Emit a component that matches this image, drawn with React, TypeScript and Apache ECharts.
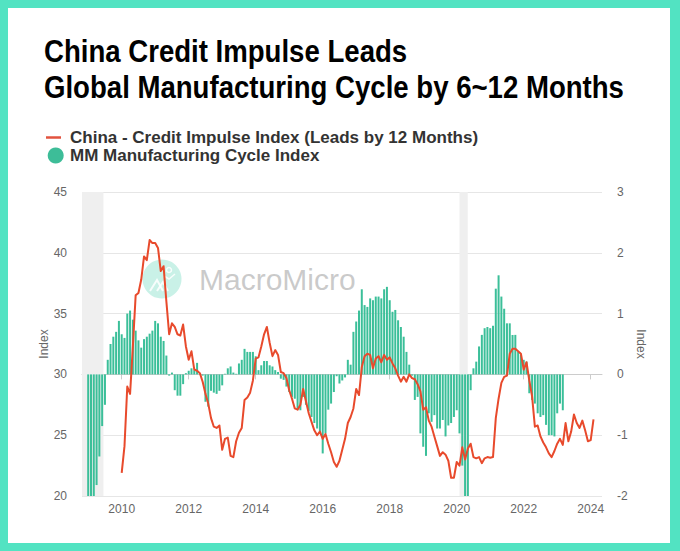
import React, { useEffect, useRef } from 'react';
import * as echarts from 'echarts';

const TITLE_LINES = ['China Credit Impulse Leads', 'Global Manufacturing Cycle by 6~12 Months'];
const LINE_NAME = 'China - Credit Impulse Index (Leads by 12 Months)';
const BAR_NAME = 'MM Manufacturing Cycle Index';
const AXIS_NAME = 'Index';

// MM Manufacturing Cycle Index, monthly from Jan 2009 (right axis)
const barStart = [2009, 1];
const cycleIndex = [
  -2.3, -2.2, -2.05, -1.82, -1.35, -0.85, -0.5, 0.24, 0.5, 0.62, 0.7, 0.88,
  0.66, 0.6, 1.0, 1.05, 0.9, 0.72, 0.56, 0.44, 0.58, 0.62, 0.67, 0.72,
  0.88, 0.84, 0.62, 0.55, 0.31, -0.02, 0.03, -0.26, -0.35, -0.35, -0.16, 0.02,
  0.06, 0.1, 0.07, 0.19, 0.01, -0.02, -0.45, -0.53, -0.27, -0.3, -0.32, -0.27,
  -0.18, 0.01, 0.1, 0.13, 0.03, 0.01, 0.18, 0.24, 0.42, 0.37, 0.37, 0.37,
  0.3, 0.07, 0.15, 0.22, 0.22, 0.15, 0.13, 0.07, 0.04, -0.07, -0.09, -0.2,
  -0.29, -0.37, -0.4, -0.56, -0.59, -0.37, -0.5, -0.6, -0.7, -0.8, -0.89, -0.97,
  -1.3, -0.97, -0.58, -0.48, -0.29, -0.03, -0.15, -0.1, -0.05, 0.24, 0.16, 0.7,
  0.87, 1.05, 1.4, 1.14, 1.11, 1.25, 1.22, 1.28, 1.28, 1.25, 1.4, 1.44,
  1.22, 1.03, 1.06, 0.89, 0.78, 0.62, 0.37, 0.16, -0.02, -0.42, -0.37, -0.97,
  -1.19, -1.34, -0.64, -0.78, -0.67, -0.89, -0.89, -0.75, -1.02, -0.84, -0.8, -0.7,
  -0.59, -0.97, -1.5, -2.1, -2.1, -0.26, 0.1, 0.21, 0.46, 0.65, 0.76, 0.78,
  0.76, 0.8, 1.41, 1.63, 1.28, 1.08, 0.84, 0.84, 0.65, 0.65, 0.37, 0.32,
  0.24, 0.21, -0.31, -0.42, -0.48, -0.64, -0.7, -0.67, -0.83, -1.0, -1.0, -1.02,
  -0.64, -0.48, -0.59,
];

// China credit impulse index shifted 12 months ahead, monthly from Jan 2010 (left axis)
const lineStart = [2010, 1];
const creditImpulse = [
  21.9, 24.1, 29.0, 28.4, 32.3, 36.5, 36.7, 37.8, 39.7, 39.4, 41.05, 40.8,
  40.8, 40.4, 38.5, 38.9, 36.0, 33.3, 34.2, 33.9, 33.3, 33.2, 34.1, 32.3,
  31.2, 31.9, 30.4, 30.3, 30.1, 29.4, 28.4, 27.6, 26.4, 25.7, 25.6, 25.8,
  23.8, 24.7, 24.8, 23.3, 23.2, 24.5, 25.2, 25.6, 27.9, 28.1, 28.5, 29.5,
  31.3, 31.4, 32.3, 33.3, 33.9, 32.6, 31.5, 32.0, 31.6, 30.2, 30.1, 29.7,
  28.7, 28.0, 27.2, 27.1, 27.5, 28.8, 27.8, 26.8, 26.1, 25.4, 25.0, 25.3,
  24.7, 25.1, 24.3, 23.6, 22.8, 22.4, 22.9, 23.8, 24.7, 26.0, 26.5, 27.2,
  28.8, 28.3, 30.6, 31.5, 31.7, 31.6, 30.5, 31.3, 31.5, 31.0, 31.6, 31.2,
  31.4, 30.9, 30.5, 29.9, 29.4, 29.8, 29.4, 30.0, 29.7, 29.6, 29.2, 28.6,
  27.1, 27.3, 26.2, 25.7, 24.9, 24.1, 23.3, 23.6, 23.4, 22.9, 21.5, 21.5,
  22.8, 22.5, 24.0, 23.0, 23.9, 24.3, 23.2, 23.1, 23.2, 22.7, 23.1, 23.2,
  23.15, 23.2, 26.4, 28.0, 29.3, 29.8, 29.9, 31.7, 32.1, 32.1, 31.9, 31.7,
  30.4, 31.0, 29.5, 28.2, 25.7, 25.8, 24.9, 24.4, 24.0, 23.5, 23.2, 23.7,
  24.3, 24.7, 24.2, 26.0, 24.5, 25.3, 26.7, 26.0, 25.6, 26.2, 25.4, 24.5,
  24.6, 26.3,
];

const xLabelYears = [2010, 2012, 2014, 2016, 2018, 2020, 2022, 2024];
const recessions = [
  ['2007-12-01', '2009-06-15'],
  ['2020-02-01', '2020-04-30'],
];

// x axis in decimal years
const X_MIN = 2008.815;
const X_MAX = 2024.337;

const FONT = '"Liberation Sans", Arial, Helvetica, sans-serif';
const TEAL = '#3bbf99';
const RED = '#e84a2c';
const FRAME = '#52e3c2';
const AXIS_TEXT = '#666666';

const ym = (start: number[], i: number) => start[0] + (start[1] - 1 + i) / 12;
const dayToYear = (s: string) => {
  const [y, m, d] = s.split('-').map(Number);
  return y + (m - 1) / 12 + (d - 1) / 365;
};

export default function App() {
  const ref = useRef<HTMLDivElement>(null);

  useEffect(() => {
    document.body.style.margin = '0';
    const chart = echarts.init(ref.current!, null, { renderer: 'svg', width: 680, height: 551 });

    const barData = cycleIndex.map((v, i) => [ym(barStart, i), v]);
    const lineData = creditImpulse.map((v, i) => [ym(lineStart, i), v]);
    const areas = recessions.map(([a, b]) => [
      { xAxis: Math.max(dayToYear(a), X_MIN) },
      { xAxis: Math.min(dayToYear(b), X_MAX) },
    ]);

    const option: any = {
      animation: false,
      backgroundColor: '#ffffff',
      grid: { left: 82, right: 78, top: 192, bottom: 55 },
      xAxis: {
        type: 'value',
        min: X_MIN,
        max: X_MAX,
        axisLine: { show: true, lineStyle: { color: '#cccccc', width: 1 } },
        axisTick: { show: true, length: 5, customValues: xLabelYears, lineStyle: { color: '#cccccc' } },
        axisLabel: {
          customValues: xLabelYears,
          formatter: (v: number) => String(Math.round(v)),
          color: AXIS_TEXT,
          fontSize: 12,
          fontFamily: FONT,
          margin: 7,
          showMinLabel: true,
          showMaxLabel: true,
        },
        splitLine: { show: false },
      },
      yAxis: [
        {
          type: 'value',
          position: 'left',
          min: 20,
          max: 45,
          interval: 5,
          name: AXIS_NAME,
          nameLocation: 'middle',
          nameGap: 32,
          nameMoveOverlap: false,
          nameRotate: 90,
          nameTextStyle: { color: AXIS_TEXT, fontSize: 12, fontFamily: FONT },
          axisLine: { show: false },
          axisTick: { show: false },
          axisLabel: { color: AXIS_TEXT, fontSize: 12, fontFamily: FONT, margin: 15 },
          splitLine: { show: true, lineStyle: { color: '#e6e6e6', width: 1 } },
        },
        {
          type: 'value',
          position: 'right',
          min: -2,
          max: 3,
          interval: 1,
          name: AXIS_NAME,
          nameLocation: 'middle',
          nameGap: 33,
          nameMoveOverlap: false,
          nameRotate: -90,
          nameTextStyle: { color: AXIS_TEXT, fontSize: 12, fontFamily: FONT },
          axisLine: { show: false, lineStyle: { color: AXIS_TEXT } },
          axisTick: { show: false },
          axisLabel: { color: AXIS_TEXT, fontSize: 12, fontFamily: FONT, margin: 15 },
          splitLine: { show: false },
        },
      ],
      series: [
        {
          name: BAR_NAME,
          type: 'bar',
          yAxisIndex: 1,
          data: barData,
          barWidth: 2,
          clip: true,
          itemStyle: { color: TEAL },
          z: 2,
          markArea: {
            silent: true,
            itemStyle: { color: '#efefef' },
            data: areas,
          },
        },
        {
          name: LINE_NAME,
          type: 'line',
          yAxisIndex: 0,
          data: lineData,
          showSymbol: false,
          symbol: 'none',
          lineStyle: { color: RED, width: 2, join: 'round' },
          itemStyle: { color: RED },
          z: 3,
        },
      ],
      graphic: [
        { type: 'rect', shape: { x: 0, y: 0, width: 680, height: 8 }, style: { fill: FRAME }, z: 200, silent: true },
        { type: 'rect', shape: { x: 0, y: 543, width: 680, height: 8 }, style: { fill: FRAME }, z: 200, silent: true },
        { type: 'rect', shape: { x: 0, y: 0, width: 8, height: 551 }, style: { fill: FRAME }, z: 200, silent: true },
        { type: 'rect', shape: { x: 670, y: 0, width: 10, height: 551 }, style: { fill: FRAME }, z: 200, silent: true },
        {
          type: 'text', x: 44, y: 51, scaleX: 0.89, z: 100,
          style: { text: TITLE_LINES[0], fill: '#000000', font: `bold 31px ${FONT}`, textAlign: 'left', textVerticalAlign: 'middle' },
        },
        {
          type: 'text', x: 44, y: 87, scaleX: 0.89, z: 100,
          style: { text: TITLE_LINES[1], fill: '#000000', font: `bold 31px ${FONT}`, textAlign: 'left', textVerticalAlign: 'middle' },
        },
        { type: 'line', shape: { x1: 46, y1: 137.5, x2: 61, y2: 137.5 }, style: { stroke: '#e2533f', lineWidth: 2.5 }, z: 100 },
        {
          type: 'text', x: 70, y: 137, z: 100,
          style: { text: LINE_NAME, fill: '#333333', font: `bold 17px ${FONT}`, textAlign: 'left', textVerticalAlign: 'middle' },
        },
        { type: 'circle', shape: { cx: 55.7, cy: 155.5, r: 8 }, style: { fill: '#3dbd98' }, z: 100 },
        {
          type: 'text', x: 70, y: 155.5, z: 100,
          style: { text: BAR_NAME, fill: '#333333', font: `bold 17px ${FONT}`, textAlign: 'left', textVerticalAlign: 'middle' },
        },
        {
          type: 'group', z: 50, silent: true,
          children: [
            { type: 'circle', shape: { cx: 162, cy: 279, r: 19.5 }, style: { fill: 'rgba(100,215,185,0.35)' } },
            { type: 'polyline', shape: { points: [[150, 291], [157, 280], [163, 291]] }, style: { stroke: 'rgba(255,255,255,0.85)', lineWidth: 2, fill: 'none' } },
            { type: 'polyline', shape: { points: [[157, 291], [163, 282], [168, 291]] }, style: { stroke: 'rgba(255,255,255,0.85)', lineWidth: 2, fill: 'none' } },
            { type: 'circle', shape: { cx: 169, cy: 270, r: 2.5 }, style: { fill: 'none', stroke: 'rgba(255,255,255,0.85)', lineWidth: 1.5 } },
            { type: 'polyline', shape: { points: [[164, 276], [169, 279], [175, 274]] }, style: { stroke: 'rgba(255,255,255,0.85)', lineWidth: 1.5, fill: 'none' } },
            {
              type: 'text', x: 199, y: 279,
              style: { text: 'MacroMicro', fill: 'rgba(150,150,150,0.5)', font: `30px ${FONT}`, textAlign: 'left', textVerticalAlign: 'middle' },
            },
          ],
        },
      ],
    };

    chart.setOption(option);
    return () => chart.dispose();
  }, []);

  return (
    <div
      ref={ref}
      style={{ position: 'absolute', left: 0, top: 0, width: 680, height: 551, background: '#ffffff' }}
    />
  );
}
